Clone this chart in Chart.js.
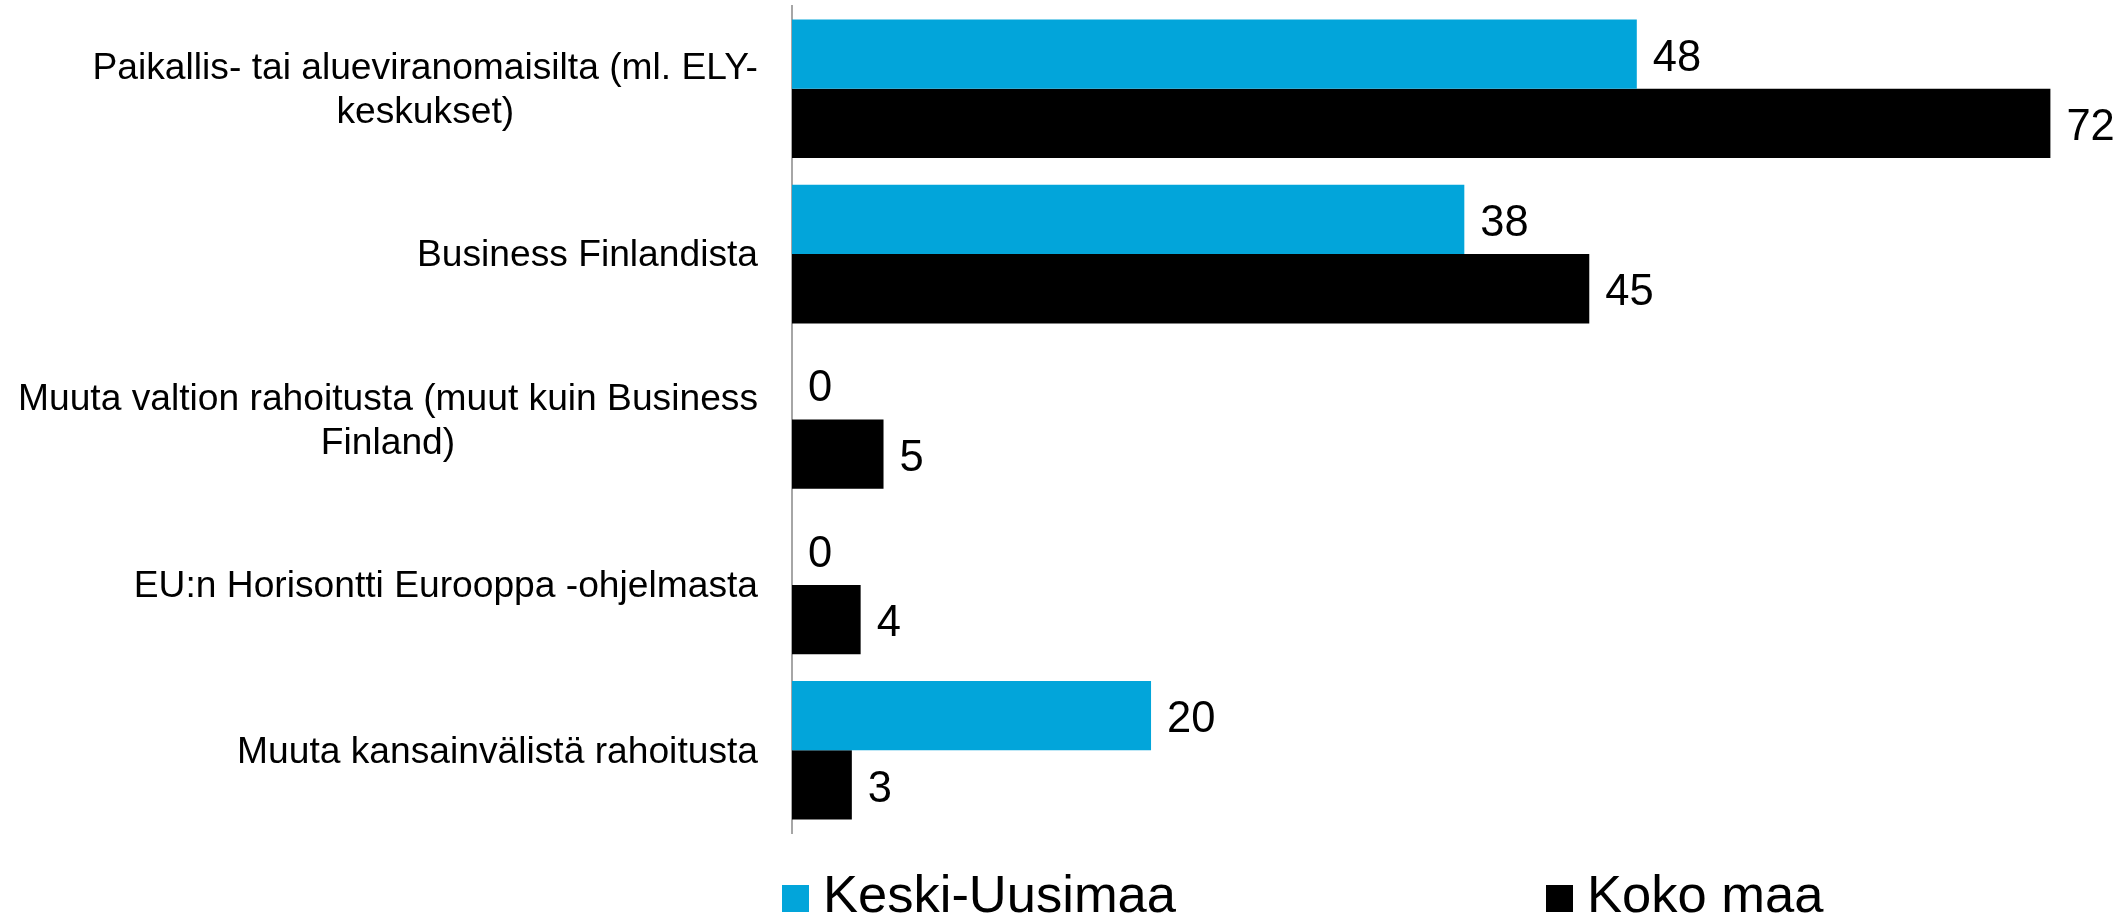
<!DOCTYPE html>
<html><head><meta charset="utf-8">
<script src="https://cdn.jsdelivr.net/npm/chart.js@4/dist/chart.umd.min.js"></script>
<style>html,body{margin:0;padding:0;background:#fff;} #wrap{width:2126px;height:919px;position:relative;}</style>
</head><body><div id="wrap"><canvas id="c" width="2126" height="919"></canvas></div>
<script>
// ---- data ----
const categories = [
  ["Paikallis- tai alueviranomaisilta (ml. ELY-", "keskukset)"],
  ["Business Finlandista"],
  ["Muuta valtion rahoitusta (muut kuin Business", "Finland)"],
  ["EU:n Horisontti Eurooppa -ohjelmasta"],
  ["Muuta kansainvälistä rahoitusta"]
];
const seriesNames = ["Keski-Uusimaa", "Koko maa"];
const keskiUusimaa = [48.0, 38.2, 0, 0, 20.4];
const kokoMaa = [71.5, 45.3, 5.2, 3.9, 3.4];
const xMin = 0, xMax = 75;

// ---- styles ----
const FONT = '"Liberation Sans", Arial, Helvetica, sans-serif';
const colors = ["#02A5DA", "#000000"];

const categoryLabelPlugin = {
  id: 'categoryLabels',
  afterDraw(chart) {
    const ctx = chart.ctx;
    const yScale = chart.scales.y;
    const fs = 37.2, lh = 43.5;
    const rightEdge = chart.chartArea.left - 34;
    ctx.save();
    ctx.font = fs + 'px ' + FONT;
    ctx.fillStyle = '#000';
    ctx.textAlign = 'center';
    ctx.textBaseline = 'alphabetic';
    chart.data.labels.forEach((lines, i) => {
      const cy = yScale.getPixelForValue(i);
      const widest = Math.max(...lines.map(l => ctx.measureText(l).width));
      const cx = rightEdge - widest / 2;
      const n = lines.length;
      lines.forEach((l, j) => {
        const lc = cy + (j - (n - 1) / 2) * lh;
        ctx.fillText(l, cx, lc + 0.358 * fs - 1);
      });
    });
    ctx.restore();
  }
};

const valueLabelPlugin = {
  id: 'valueLabels',
  afterDatasetsDraw(chart) {
    const ctx = chart.ctx;
    const fs = 43.5;
    ctx.save();
    ctx.font = fs + 'px ' + FONT;
    ctx.fillStyle = '#000';
    ctx.textAlign = 'left';
    ctx.textBaseline = 'alphabetic';
    chart.data.datasets.forEach((ds, di) => {
      const meta = chart.getDatasetMeta(di);
      meta.data.forEach((el, i) => {
        const v = ds.data[i];
        ctx.fillText(String(Math.round(v)), el.x + 16, el.y + 0.358 * fs + 1);
      });
    });
    ctx.restore();
  }
};

const legendPlugin = {
  id: 'customLegend',
  afterDraw(chart) {
    const ctx = chart.ctx;
    const fs = 52.5;
    const xs = [782, 1546];
    const boxTop = 885, box = 27, baseline = 912;
    ctx.save();
    ctx.font = fs + 'px ' + FONT;
    ctx.textAlign = 'left';
    ctx.textBaseline = 'alphabetic';
    chart.data.datasets.forEach((ds, i) => {
      ctx.fillStyle = ds.backgroundColor;
      ctx.fillRect(xs[i], boxTop, box, box);
      ctx.fillStyle = '#000';
      ctx.fillText(ds.label, xs[i] + 41, baseline);
    });
    ctx.restore();
  }
};

new Chart(document.getElementById('c'), {
  type: 'bar',
  data: {
    labels: categories,
    datasets: [
      { label: seriesNames[0], data: keskiUusimaa, backgroundColor: colors[0], borderWidth: 0 },
      { label: seriesNames[1], data: kokoMaa, backgroundColor: colors[1], borderWidth: 0 }
    ]
  },
  options: {
    indexAxis: 'y',
    responsive: false,
    animation: false,
    devicePixelRatio: 1,
    categoryPercentage: 0.838,
    barPercentage: 1.0,
    layout: { padding: { left: 0, top: 6, right: 14, bottom: 86 } },
    plugins: {
      legend: { display: false },
      tooltip: { enabled: false }
    },
    scales: {
      x: { display: false, min: xMin, max: xMax },
      y: {
        grid: { display: false, drawTicks: false },
        border: { display: true, color: '#A6A6A6', width: 2 },
        ticks: { display: false },
        afterFit(scale) { scale.width = 792; }
      }
    }
  },
  plugins: [categoryLabelPlugin, valueLabelPlugin, legendPlugin]
});
</script>
</body></html>
